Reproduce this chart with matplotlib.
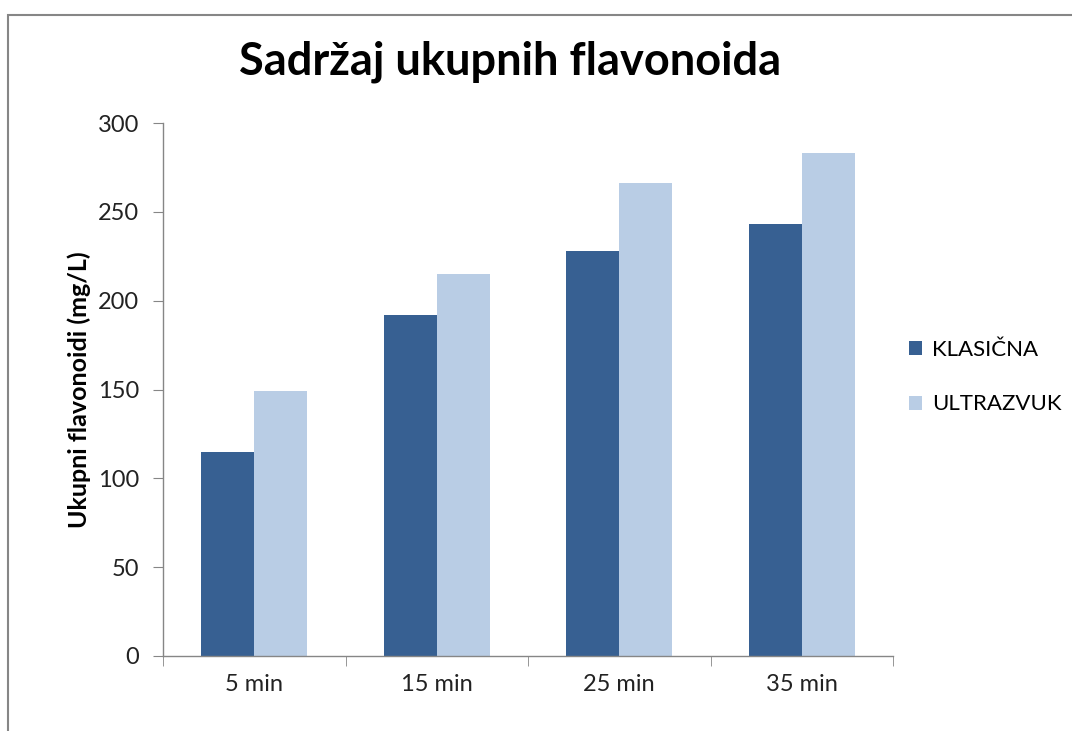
import matplotlib
matplotlib.use("Agg")
import matplotlib.pyplot as plt
import numpy as np
from matplotlib.patches import Rectangle

categories = ["5 min", "15 min", "25 min", "35 min"]
klasicna = [115, 192, 228, 243]
ultrazvuk = [149, 215, 266, 283]
series_names = ["KLASIČNA", "ULTRAZVUK"]
yticks = [0, 50, 100, 150, 200, 250, 300]

DARK = "#376092"
LIGHT = "#B9CDE5"
GRAY = "#868686"

plt.rcParams["font.family"] = ["Lato", "DejaVu Sans"]

fig = plt.figure(figsize=(10.72, 7.31), dpi=100)
ax = fig.add_axes([163 / 1072, 1 - 656 / 731, 730 / 1072, 533 / 731])

# outer chart frame (cropped on right/bottom in the original)
fig.patches.append(Rectangle((8 / 1072, -0.05), 1.1, 1 - 15 / 731 + 0.05,
                             transform=fig.transFigure, fill=False,
                             edgecolor=GRAY, linewidth=1.5))

x = np.arange(len(categories))
w = 0.29
ax.bar(x - w / 2, klasicna, width=w, color=DARK, label=series_names[0])
ax.bar(x + w / 2, ultrazvuk, width=w, color=LIGHT, label=series_names[1])

ax.set_xlim(-0.5, len(categories) - 0.5)
ax.set_ylim(0, 300)
ax.set_yticks(yticks)
ax.set_xticks(x)
ax.set_xticklabels(categories, fontsize=17, color="#222222")
ax.tick_params(axis="x", length=0, pad=13)
ax.set_xticks(np.arange(-0.5, len(categories)), minor=True)
ax.tick_params(axis="x", which="minor", length=7, color=GRAY, direction="out")
ax.tick_params(axis="y", length=7, color=GRAY, labelsize=17,
               labelcolor="#222222", pad=10)

for s in ["top", "right"]:
    ax.spines[s].set_visible(False)
for s in ["left", "bottom"]:
    ax.spines[s].set_color(GRAY)
    ax.spines[s].set_linewidth(1.0)

ax.set_ylabel("Ukupni flavonoidi (mg/L)", fontsize=18, fontweight="bold",
              labelpad=5)

fig.text(510 / 1072, 1 - 62 / 731, "Sadržaj ukupnih flavonoida",
         ha="center", va="center", fontsize=32.5, fontweight="bold")

ax.legend(loc="center left", bbox_to_anchor=(1.0, 0.523), frameon=False,
          fontsize=16, handlelength=0.6, handleheight=0.6,
          handletextpad=0.45, labelspacing=1.55, borderaxespad=0.3)

fig.savefig("out.png", dpi=100)
